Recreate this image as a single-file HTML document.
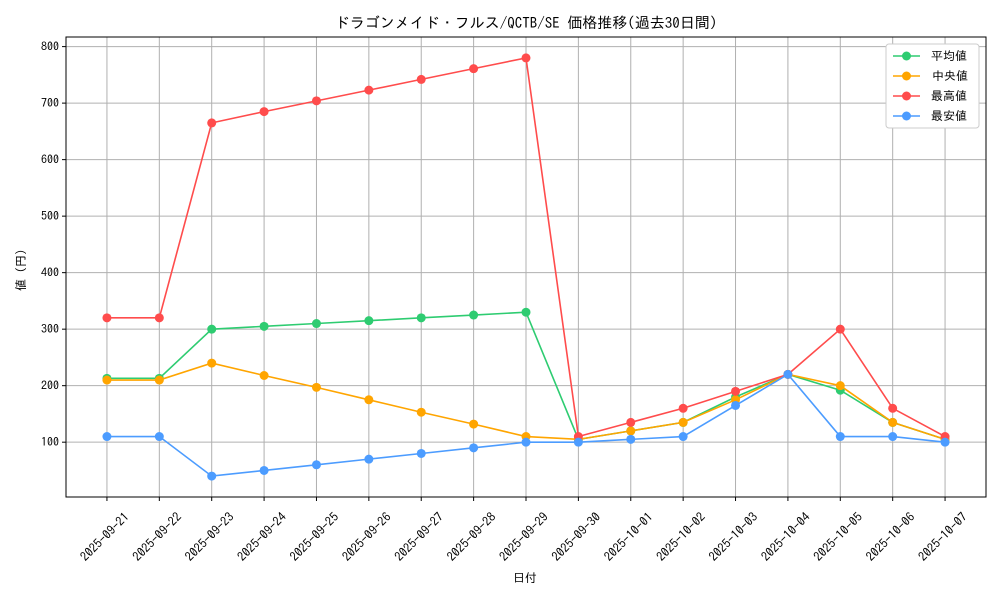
<!DOCTYPE html>
<html><head><meta charset="utf-8"><style>
body{margin:0;background:#fff;}
svg text{font-family:"IPAGothic","Noto Sans CJK JP",monospace;fill:#000;}
</style></head><body>
<svg id="chart" width="1000" height="600" xmlns="http://www.w3.org/2000/svg">
<rect width="1000" height="600" fill="#fff"/>
<text x="526" y="28" font-size="15" text-anchor="middle">ドラゴンメイド・フルス/QCTB/SE 価格推移(過去30日間)</text>
<g id="grid"></g><g id="axes"></g><g id="series"></g>
<text x="525" y="582" font-size="12" text-anchor="middle">日付</text>
<text transform="translate(25,270) rotate(-90)" font-size="12" text-anchor="middle">値 (円)</text>
<g id="legend"></g>
</svg>
<script>
const categories=["2025-09-21","2025-09-22","2025-09-23","2025-09-24","2025-09-25","2025-09-26","2025-09-27","2025-09-28","2025-09-29","2025-09-30","2025-10-01","2025-10-02","2025-10-03","2025-10-04","2025-10-05","2025-10-06","2025-10-07"];
const avgValues=[213,213,300,305,310,315,320,325,330,105,120,135,180,220,192,135,105];
const medianValues=[210,210,240,218,197,175,153,132,110,105,120,135,175,220,200,135,105];
const maxValues=[320,320,665,685,704,723,742,761,780,110,135,160,190,220,300,160,110];
const minValues=[110,110,40,50,60,70,80,90,100,100,105,110,165,220,110,110,100];
const yTicks=[100,200,300,400,500,600,700,800];
const seriesNames=["平均値","中央値","最高値","最安値"];
const seriesColors=["#2ecc71","#ffa500","#ff4c4c","#4c9cff"];
const NS="http://www.w3.org/2000/svg";
const L=66,R=986,T=37,B=497;
const all=[...avgValues,...medianValues,...maxValues,...minValues];
const dmin=Math.min(...all),dmax=Math.max(...all),pad=(dmax-dmin)*0.05;
const y0=dmin-pad,y1=dmax+pad;
const xm=(R-L)*0.0445;
const x=i=>L+xm+i*(R-L-2*xm)/(categories.length-1);
const y=v=>B-(v-y0)/(y1-y0)*(B-T);
function mk(tag,attrs,parent){const e=document.createElementNS(NS,tag);for(const k in attrs)e.setAttribute(k,attrs[k]);parent.appendChild(e);return e;}
const grid=document.getElementById('grid'),axes=document.getElementById('axes'),ser=document.getElementById('series'),leg=document.getElementById('legend');
categories.forEach((c,i)=>{
 const g=mk('line',{x1:x(i),x2:x(i),y1:T,y2:B,stroke:'#b0b0b0','stroke-width':1},grid);
 
 
 mk('line',{x1:x(i),x2:x(i),y1:B,y2:B+4,stroke:'#000'},axes);
 const cx=x(i)-2,cy=537;
 const t=mk('text',{x:cx,y:cy+4,'font-size':12.5,'text-anchor':'middle',transform:`rotate(-45 ${cx} ${cy})`},axes);
 t.textContent=c;
 
 
});
yTicks.forEach(v=>{
 const g=mk('line',{x1:L,x2:R,y1:y(v),y2:y(v),stroke:'#b0b0b0','stroke-width':1},grid);
 
 
 mk('line',{x1:L-4,x2:L,y1:y(v),y2:y(v),stroke:'#000'},axes);
 const t=mk('text',{x:L-7,y:y(v)+4,'font-size':12,'text-anchor':'end'},axes);
 t.textContent=v;
 
 
});
const fr=mk('rect',{x:L,y:T,width:R-L,height:B-T,fill:'none',stroke:'#000','stroke-width':1},axes);


[avgValues,medianValues,maxValues,minValues].forEach((vals,s)=>{
 const g=mk('g',{},ser);
 
 
 mk('polyline',{points:vals.map((v,i)=>x(i)+','+y(v)).join(' '),fill:'none',stroke:seriesColors[s],'stroke-width':1.6},g);
 vals.forEach((v,i)=>{
  const p=mk('circle',{cx:x(i),cy:y(v),r:4.5,fill:seriesColors[s]},g);
  
  
 });
});
mk('rect',{x:886,y:44,width:93,height:84,fill:'#fff',stroke:'#ccc',rx:3},leg);
seriesNames.forEach((n,s)=>{
 const yy=56+s*20;
 const e=mk('g',{},leg);
 
 
 mk('line',{x1:893,x2:920,y1:yy,y2:yy,stroke:seriesColors[s],'stroke-width':1.6},e);
 mk('circle',{cx:906.5,cy:yy,r:4.5,fill:seriesColors[s]},e);
 const t=mk('text',{x:s==1?932:931,y:yy+4,'font-size':12},e);
 t.textContent=(s==1?' ':'')+n;
});
</script>
</body></html>
